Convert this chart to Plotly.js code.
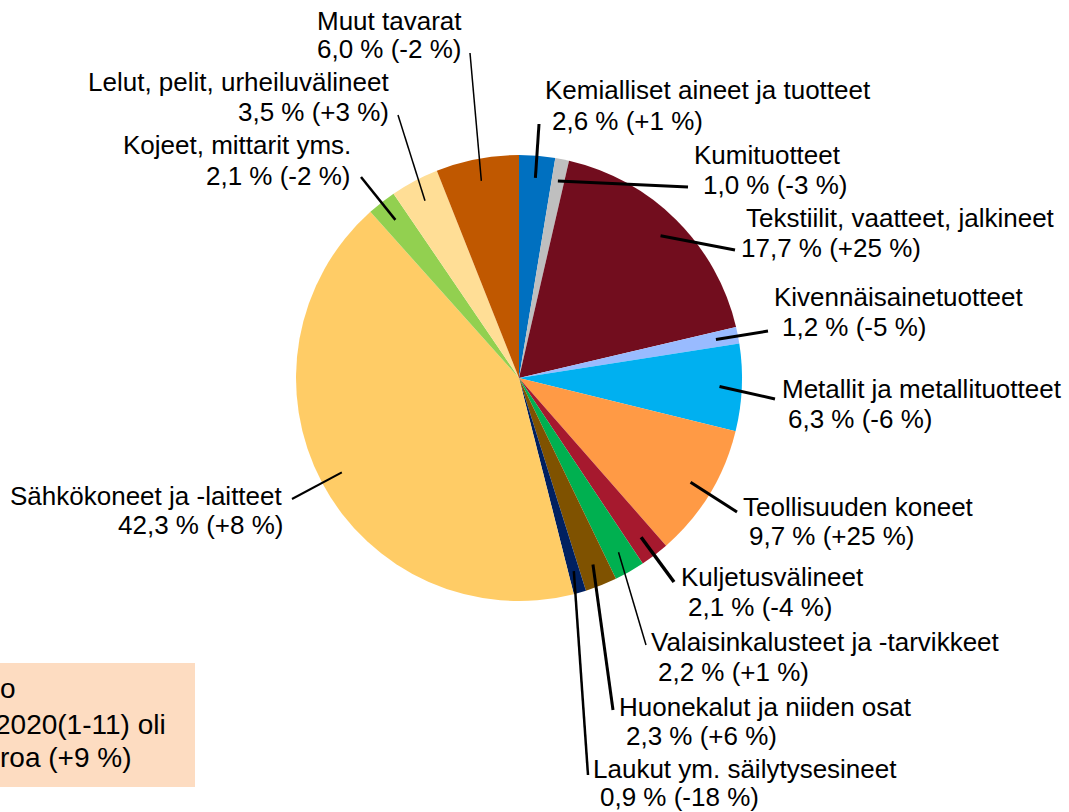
<!DOCTYPE html>
<html>
<head>
<meta charset="utf-8">
<script src="https://cdn.plot.ly/plotly-3.0.1.min.js"></script>
<style>html,body{margin:0;padding:0;background:#fff;}#chart{width:1069px;height:812px;}</style>
</head>
<body>
<div id="chart"></div>
<script>
// ---- data ----
const categories = [
  "Kemialliset aineet ja tuotteet",
  "Kumituotteet",
  "Tekstiilit, vaatteet, jalkineet",
  "Kivennäisainetuotteet",
  "Metallit ja metallituotteet",
  "Teollisuuden koneet",
  "Kuljetusvälineet",
  "Valaisinkalusteet ja -tarvikkeet",
  "Huonekalut ja niiden osat",
  "Laukut ym. säilytysesineet",
  "Sähkökoneet ja -laitteet",
  "Kojeet, mittarit yms.",
  "Lelut, pelit, urheiluvälineet",
  "Muut tavarat"
];
const shares = [2.6, 1.0, 17.7, 1.2, 6.3, 9.7, 2.1, 2.2, 2.3, 0.9, 42.3, 2.1, 3.5, 6.0];
const changes = [1, -3, 25, -5, -6, 25, -4, 1, 6, -18, 8, -2, 3, -2];
const colors = ["#0070C0", "#BFBFBF", "#720D1E", "#99BBFF", "#00B0F0", "#FF9A45", "#A6192E",
                "#00B050", "#7F5200", "#002060", "#FFCC66", "#92D050", "#FFDE96", "#C05800"];
const boxLines = ["o", "2020(1-11) oli", "roa (+9 %)"];

// ---- layout (pixels) ----
const W = 1069, H = 812;
const CX = 519, CY = 378, R = 223;
// per label: leader end point, line1 [x,y], line2 [x,y], side, leader width
const labelLayout = [
  {end:[539,124], l1:[544,90],  l2:[551,121], side:"r", lw:3},
  {end:[688,187], l1:[693,155], l2:[702,185], side:"r", lw:3},
  {end:[735,250], l1:[745,218], l2:[740,248], side:"r", lw:3},
  {end:[768,331], l1:[773,297], l2:[781,327], side:"r", lw:3},
  {end:[775,399], l1:[781,389], l2:[787,419], side:"r", lw:3},
  {end:[737,512], l1:[742,507], l2:[748,536], side:"r", lw:3},
  {end:[674,582], l1:[680,577], l2:[687,607], side:"r", lw:3.5},
  {end:[646,645], l1:[650,642], l2:[657,672], side:"r", lw:1.5},
  {end:[613,710], l1:[618,707], l2:[625,736], side:"r", lw:3},
  {end:[588,775], l1:[592,769], l2:[599,797], side:"r", lw:2.5},
  {end:[292,499], l1:[284,496], l2:[284,525], side:"l", lw:2},
  {end:[361,177], l1:[352,145], l2:[352,176], side:"l", lw:2.5},
  {end:[398,115], l1:[390,82],  l2:[390,112], side:"l", lw:1.5},
  {end:[470,53],  l1:[463,21],  l2:[463,49],  side:"l", lw:1.5}
];
const boxLayout = {x0:0, x1:195, y0:663, y1:787, lines:[[17,688],[167,724],[133,757]]};

const px = x => x / W;
const py = y => 1 - y / H;
const fmt = (v) => v.toFixed(1).replace(".", ",");
const fmtChg = (c) => "(" + (c > 0 ? "+" : (c < 0 ? "-" : "")) + Math.abs(c) + " %)";

const FONT = {family: "'Liberation Sans', Arial, sans-serif", size: 26, color: "#000"};

const total = shares.reduce((a, b) => a + b, 0);
const shapes = [];
const annotations = [];

// background box
shapes.push({type: "rect", xref: "paper", yref: "paper", layer: "below",
  x0: px(boxLayout.x0), x1: px(boxLayout.x1), y0: py(boxLayout.y1), y1: py(boxLayout.y0),
  fillcolor: "#FDDCC1", line: {width: 0}});
boxLines.forEach((t, i) => {
  annotations.push({xref: "paper", yref: "paper", x: px(boxLayout.lines[i][0]), y: py(boxLayout.lines[i][1]),
    xanchor: "right", yanchor: "middle", text: t, showarrow: false, borderpad: 0,
    font: {family: FONT.family, size: 28, color: "#000"}});
});

let cum = 0;
shares.forEach((v, i) => {
  const theta = (cum + v / 2) / total * 2 * Math.PI;
  cum += v;
  const sx = CX + 0.9 * R * Math.sin(theta);
  const sy = CY - 0.9 * R * Math.cos(theta);
  const L = labelLayout[i];
  shapes.push({type: "line", xref: "paper", yref: "paper", layer: "above",
    x0: px(sx), y0: py(sy), x1: px(L.end[0]), y1: py(L.end[1]),
    line: {color: "#000", width: L.lw}});
  const anchor = L.side === "r" ? "left" : "right";
  annotations.push({xref: "paper", yref: "paper", x: px(L.l1[0]), y: py(L.l1[1]),
    xanchor: anchor, yanchor: "middle", text: categories[i], showarrow: false, borderpad: 0, font: FONT});
  annotations.push({xref: "paper", yref: "paper", x: px(L.l2[0]), y: py(L.l2[1]),
    xanchor: anchor, yanchor: "middle", text: fmt(v) + " % " + fmtChg(changes[i]), showarrow: false, borderpad: 0, font: FONT});
});

const trace = {
  type: "pie",
  values: shares,
  labels: categories,
  marker: {colors: colors, line: {width: 0}},
  sort: false,
  direction: "clockwise",
  rotation: 0,
  textinfo: "none",
  hoverinfo: "label+value",
  showlegend: false,
  domain: {x: [px(CX - R), px(CX + R)], y: [py(CY + R), py(CY - R)]}
};

const layout = {
  width: W, height: H, autosize: false,
  margin: {l: 0, r: 0, t: 0, b: 0},
  paper_bgcolor: "#fff",
  showlegend: false,
  shapes: shapes,
  annotations: annotations
};

Plotly.newPlot("chart", [trace], layout, {displayModeBar: false, staticPlot: true});
</script>
</body>
</html>
